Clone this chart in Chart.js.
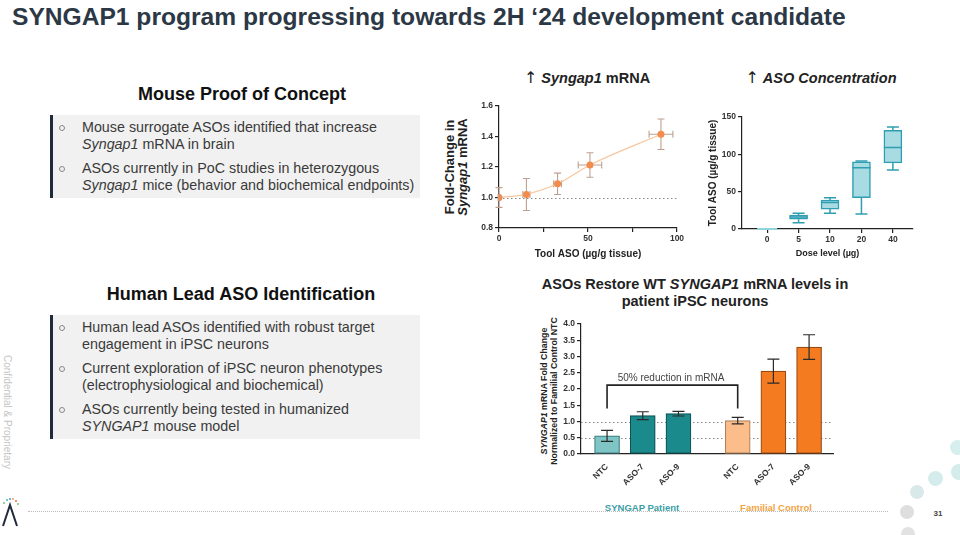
<!DOCTYPE html>
<html>
<head>
<meta charset="utf-8">
<title>SYNGAP1 program</title>
<script src="https://cdn.jsdelivr.net/npm/chart.js@4.4.1/dist/chart.umd.min.js"></script>
<style>
  html, body { margin: 0; padding: 0; }
  body { width: 960px; height: 535px; position: relative; overflow: hidden; background: #fff;
         font-family: 'Liberation Sans', Arial, sans-serif; }
  .abs { position: absolute; white-space: nowrap; }
  .c { transform: translate(-50%, -50%); text-align: center; }
  .rot { transform: translate(-50%, -50%) rotate(-90deg); text-align: center; }
  #title { left: 12px; top: 3px; font-size: 24.6px; font-weight: bold; color: #2c3845; }
  .head { font-size: 18px; font-weight: bold; color: #111; }
  .box { position: absolute; left: 50px; width: 370px; background: #f1f1f1; border-left: 3px solid #1e2b3a;
         box-sizing: border-box; padding-top: 3.5px; }
  .item { position: relative; padding-left: 29px; line-height: 17px; font-size: 14.3px; color: #3a3a3a;
          margin-bottom: 7px; white-space: nowrap; }
  .item::before { content: ''; position: absolute; left: 6px; top: 6px; width: 4px; height: 4px;
                  border: 1px solid #888; border-radius: 50%; }
  .ctitle { font-size: 14.5px; font-weight: bold; color: #222; line-height: 17px; }
  .arrow { font-family: 'DejaVu Sans', sans-serif; font-weight: normal; font-size: 16px; }
  canvas { position: absolute; }
  .dot { position: absolute; border-radius: 50%; }
</style>
</head>
<body>

<div id="title" class="abs">SYNGAP1 program progressing towards 2H ‘24 development candidate</div>

<div class="abs c head" style="left:242px; top:94px;">Mouse Proof of Concept</div>
<div class="box" style="top:115px; height:83px;">
  <div class="item">Mouse surrogate ASOs identified that increase<br><i>Syngap1</i> mRNA in brain</div>
  <div class="item">ASOs currently in PoC studies in heterozygous<br><i>Syngap1</i> mice (behavior and biochemical endpoints)</div>
</div>

<div class="abs c head" style="left:241px; top:294px;">Human Lead ASO Identification</div>
<div class="box" style="top:315px; height:124px;">
  <div class="item">Human lead ASOs identified with robust target<br>engagement in iPSC neurons</div>
  <div class="item">Current exploration of iPSC neuron phenotypes<br>(electrophysiological and biochemical)</div>
  <div class="item">ASOs currently being tested in humanized<br><i>SYNGAP1</i> mouse model</div>
</div>

<!-- chart titles -->
<div class="abs c ctitle" style="left:587px; top:78px;"><span class="arrow">↑</span> <i>Syngap1</i> mRNA</div>
<div class="abs c ctitle" style="left:821px; top:78px;"><span class="arrow">↑</span> <i>ASO Concentration</i></div>
<div class="abs c ctitle" style="left:695px; top:293px;">ASOs Restore WT <i>SYNGAP1</i> mRNA levels in<br>patient iPSC neurons</div>

<!-- y axis titles with italics -->
<div class="abs rot" style="left:456px; top:167px; font-size:13px; font-weight:bold; line-height:13px; color:#222;">Fold-Change in<br><i>Syngap1</i> mRNA</div>
<div class="abs rot" style="left:549px; top:391px; font-size:8.8px; font-weight:bold; line-height:10px; color:#222;"><i>SYNGAP1</i> mRNA Fold Change<br>Normalized to Familial Control NTC</div>

<canvas id="mrnaChart" width="250" height="167" style="left:440px; top:95px;"></canvas>
<canvas id="asoChart" width="250" height="165" style="left:700px; top:95px;"></canvas>
<canvas id="ipscChart" width="330" height="190" style="left:520px; top:310px;"></canvas>

<div class="abs c" style="left:671px; top:377px; font-size:10px; color:#444;">50% reduction in mRNA</div>
<div class="abs c" style="left:642px; top:507px; font-size:9.5px; font-weight:bold; color:#3a9ea6;">SYNGAP Patient</div>
<div class="abs c" style="left:776px; top:507px; font-size:9.5px; font-weight:bold; color:#f2a444;">Familial Control</div>

<!-- footer -->
<div class="abs" style="left:28px; top:511px; width:860px; border-top:1px dotted #bbb;"></div>
<div class="abs c" style="left:938px; top:513px; font-size:8px; font-weight:bold; color:#444;">31</div>
<div class="abs c" style="left:7px; top:412px; font-size:10px; color:#c4c4c4; writing-mode:vertical-rl; transform:translate(-50%,-50%);">Confidential &amp; Proprietary</div>
<svg class="abs" style="left:0; top:494px;" width="24" height="34">
  <polyline points="3,32 10,11 17,32" fill="none" stroke="#1f2a3a" stroke-width="2"/>
  <circle cx="4" cy="9" r="1" fill="#7cc576"/><circle cx="7" cy="6" r="1" fill="#4cb5a5"/>
  <circle cx="10" cy="5" r="1" fill="#3a9ed6"/><circle cx="13" cy="5" r="1" fill="#f2a444"/>
  <circle cx="16" cy="7" r="1" fill="#e86a4a"/><circle cx="18" cy="10" r="1" fill="#7cc576"/>
</svg>
<div class="dot" style="left:950px; top:440px; width:15px; height:15px; background:#d6eeee;"></div>
<div class="dot" style="left:951px; top:464px; width:16px; height:16px; background:#d4ecec;"></div>
<div class="dot" style="left:928px; top:471px; width:15px; height:15px; background:#d4ecec;"></div>
<div class="dot" style="left:910px; top:485px; width:14px; height:14px; background:#d9e9e9;"></div>
<div class="dot" style="left:900px; top:505px; width:14px; height:14px; background:#dedede;"></div>
<div class="dot" style="left:901px; top:527px; width:14px; height:14px; background:#e2e2e2;"></div>

<script>
Chart.defaults.font.family = "'Liberation Sans', Arial, sans-serif";
Chart.defaults.color = '#333';
Chart.defaults.animation = false;

// Syngap1 mRNA vs tool ASO in tissue (mean ± error on both axes)
const mrnaDose = [0, 15.4, 32.9, 51.1, 91];
const mrnaFold = [1.0, 1.02, 1.09, 1.213, 1.415];
const mrnaDoseErr = [0.5, 2, 2.2, 6.6, 6.7];
const mrnaFoldErr = [0.065, 0.105, 0.07, 0.08, 0.1];

// ASO concentration box plot by dose level
const doseLevels = ['0', '5', '10', '20', '40'];
const asoMin = [0, 8.5, 21, 20, 79];
const asoQ1 = [0, 13, 26.7, 42, 88.6];
const asoMedian = [0, 16, 35.6, 82, 109];
const asoQ3 = [0, 18.7, 38.7, 90, 132];
const asoMax = [0, 21, 41.8, 91, 136.6];

// iPSC neurons bar chart
const barLabels = ['NTC', 'ASO-7', 'ASO-9', 'NTC', 'ASO-7', 'ASO-9'];
const barGroup = [0, 0, 0, 1, 1, 1];   // 0 = SYNGAP patient, 1 = familial control
const barValues = [0.56, 1.18, 1.24, 1.03, 2.55, 3.29];
const barErr = [0.17, 0.12, 0.07, 0.1, 0.37, 0.38];

const GROUP_GAP = 0.66;
const barX = barLabels.map((_, i) => i + barGroup[i] * GROUP_GAP);

const axisColor = '#222';
const tickFont = { size: 8.5, weight: 'bold' };

// dotted horizontal reference lines
const refLinePlugin = {
    id: 'refLines',
    beforeDatasetsDraw(chart, args, opts) {
        if (!opts.values) return;
        const { ctx, chartArea, scales } = chart;
        ctx.save();
        ctx.strokeStyle = opts.color || '#888';
        ctx.lineWidth = 1;
        ctx.setLineDash(opts.dash || [2, 2]);
        opts.values.forEach(v => {
            const y = Math.round(scales.y.getPixelForValue(v)) + 0.5;
            ctx.beginPath();
            ctx.moveTo(chartArea.left, y);
            ctx.lineTo(chartArea.right, y);
            ctx.stroke();
        });
        ctx.restore();
    }
};

function drawErrors(chart, behind) {
    const ctx = chart.ctx;
    const ys = chart.scales.y, xs = chart.scales.x;
    chart.data.datasets.forEach((ds, di) => {
        if (!ds.yErr || !!ds.errBehind !== behind) return;
        const meta = chart.getDatasetMeta(di);
        const cap = ds.capSize || 5;
        ctx.save();
        ctx.strokeStyle = ds.errColor || '#333';
        ctx.lineWidth = ds.errWidth || 1.2;
        meta.data.forEach((el, i) => {
            const raw = ds.data[i];
            const x = xs.getPixelForValue(raw.x);
            const y = ys.getPixelForValue(raw.y);
            const top = ys.getPixelForValue(raw.y + ds.yErr[i]);
            const bot = ys.getPixelForValue(raw.y - ds.yErr[i]);
            ctx.beginPath();
            ctx.moveTo(x, top); ctx.lineTo(x, bot);
            ctx.moveTo(x - cap, top); ctx.lineTo(x + cap, top);
            ctx.moveTo(x - cap, bot); ctx.lineTo(x + cap, bot);
            if (ds.xErr) {
                const l = xs.getPixelForValue(raw.x - ds.xErr[i]);
                const r = xs.getPixelForValue(raw.x + ds.xErr[i]);
                ctx.moveTo(l, y); ctx.lineTo(r, y);
                ctx.moveTo(l, y - cap); ctx.lineTo(l, y + cap);
                ctx.moveTo(r, y - cap); ctx.lineTo(r, y + cap);
            }
            ctx.stroke();
        });
        ctx.restore();
    });
}

const errorBarPlugin = {
    id: 'errorBars',
    beforeDatasetsDraw(chart) { drawErrors(chart, true); },
    afterDatasetsDraw(chart) { drawErrors(chart, false); }
};

// whiskers and medians on top of the floating bars
const boxPlotPlugin = {
    id: 'boxWhiskers',
    afterDatasetsDraw(chart) {
        const ctx = chart.ctx, ys = chart.scales.y;
        const meta = chart.getDatasetMeta(0);
        ctx.save();
        ctx.lineWidth = 1.5;
        meta.data.forEach((el, i) => {
            const x = el.x, half = el.width / 2, cap = 6;
            const pMin = ys.getPixelForValue(asoMin[i]);
            const pMax = ys.getPixelForValue(asoMax[i]);
            const pQ1 = ys.getPixelForValue(asoQ1[i]);
            const pQ3 = ys.getPixelForValue(asoQ3[i]);
            const pMed = ys.getPixelForValue(asoMedian[i]);
            if (asoMax[i] === asoMin[i]) {
                ctx.strokeStyle = '#8fd3dc';
                ctx.lineWidth = 2;
                ctx.beginPath();
                ctx.moveTo(x - half - 1, pMed); ctx.lineTo(x + half + 1, pMed);
                ctx.stroke();
                ctx.lineWidth = 1.5;
                return;
            }
            ctx.strokeStyle = '#2f9eb2';
            ctx.beginPath();
            ctx.moveTo(x, pQ3); ctx.lineTo(x, pMax);
            ctx.moveTo(x - cap, pMax); ctx.lineTo(x + cap, pMax);
            ctx.moveTo(x, pQ1); ctx.lineTo(x, pMin);
            ctx.moveTo(x - cap, pMin); ctx.lineTo(x + cap, pMin);
            ctx.moveTo(x - half, pMed); ctx.lineTo(x + half, pMed);
            ctx.stroke();
        });
        ctx.restore();
    }
};

// bracket between two bars
const bracketPlugin = {
    id: 'bracket',
    afterDatasetsDraw(chart, args, opts) {
        if (opts.from == null) return;
        const { ctx, scales: { x, y } } = chart;
        const x1 = x.getPixelForValue(barX[opts.from]);
        const x2 = x.getPixelForValue(barX[opts.to]);
        const yl = y.getPixelForValue(opts.low);
        const yh = y.getPixelForValue(opts.high);
        ctx.save();
        ctx.strokeStyle = '#222';
        ctx.lineWidth = 1.6;
        ctx.beginPath();
        ctx.moveTo(x1, yl); ctx.lineTo(x1, yh); ctx.lineTo(x2, yh); ctx.lineTo(x2, yl);
        ctx.stroke();
        ctx.restore();
    }
};

const tickGrid = { drawOnChartArea: false, color: axisColor, tickLength: 4, lineWidth: 1.2 };
const axisBorder = { color: axisColor, width: 1.2 };

// ---- Syngap1 mRNA ----
new Chart(document.getElementById('mrnaChart'), {
    type: 'scatter',
    data: {
        datasets: [{
            data: mrnaDose.map((d, i) => ({ x: d, y: mrnaFold[i] })),
            xErr: mrnaDoseErr,
            yErr: mrnaFoldErr,
            errColor: '#bfa090',
            errWidth: 1.1,
            errBehind: true,
            capSize: 3.5,
            showLine: true,
            cubicInterpolationMode: 'monotone',
            borderColor: '#f7c7a0',
            borderWidth: 1.2,
            pointRadius: 3.5,
            pointBackgroundColor: '#f28b4c',
            pointBorderWidth: 0
        }]
    },
    options: {
        responsive: false,
        layout: { padding: { top: 11, right: 13 } },
        plugins: {
            legend: { display: false },
            tooltip: { enabled: false },
            refLines: { values: [1.0], color: '#8a8a8a', dash: [1.5, 2.5] }
        },
        scales: {
            x: {
                type: 'linear', min: 0, max: 100, offset: false,
                afterFit: s => { s.height = 34; },
                afterBuildTicks: s => { s.ticks = [0, 25, 50, 75, 100].map(v => ({ value: v })); },
                ticks: { callback: v => v % 50 === 0 ? v : '', font: tickFont, padding: 2, maxRotation: 0, autoSkip: false },
                grid: tickGrid,
                border: axisBorder,
                title: { display: true, text: 'Tool ASO (µg/g tissue)', font: { size: 10, weight: 'bold' }, color: axisColor, padding: { top: 0, bottom: 2 } }
            },
            y: {
                min: 0.8, max: 1.6,
                afterFit: s => { s.width = 59; },
                ticks: { stepSize: 0.2, callback: v => v.toFixed(1), font: tickFont, padding: 2 },
                grid: tickGrid,
                border: axisBorder
            }
        }
    },
    plugins: [refLinePlugin, errorBarPlugin]
});

// ---- ASO concentration ----
new Chart(document.getElementById('asoChart'), {
    type: 'bar',
    data: {
        datasets: [{
            data: doseLevels.map((d, i) => ({ x: i, y: [asoQ1[i], asoQ3[i]] })),
            backgroundColor: '#a9dbe3',
            borderColor: '#2f9eb2',
            borderWidth: 1.5,
            borderSkipped: false,
            barThickness: 18
        }]
    },
    options: {
        responsive: false,
        layout: { padding: { top: 22, right: 37 } },
        plugins: { legend: { display: false }, tooltip: { enabled: false } },
        scales: {
            x: {
                type: 'linear', min: -0.8, max: 4.64, offset: false,
                afterFit: s => { s.height = 31; },
                afterBuildTicks: s => { s.ticks = doseLevels.map((d, i) => ({ value: i })); },
                ticks: { callback: (v, i) => doseLevels[i], font: tickFont, padding: 2, maxRotation: 0, autoSkip: false },
                grid: { drawOnChartArea: false, color: axisColor, tickLength: 4, lineWidth: 1.2, offset: false },
                border: axisBorder,
                title: { display: true, text: 'Dose level (µg)', font: { size: 9, weight: 'bold' }, color: axisColor, padding: { top: 0, bottom: 1.5 } }
            },
            y: {
                min: 0, max: 150,
                afterFit: s => { s.width = 42; },
                ticks: { stepSize: 50, font: tickFont, padding: 2 },
                grid: tickGrid,
                border: axisBorder,
                title: { display: true, text: 'Tool ASO (µg/g tissue)', font: { size: 10, weight: 'bold' }, color: axisColor, padding: { top: 7, bottom: 0 } }
            }
        }
    },
    plugins: [boxPlotPlugin]
});

// ---- iPSC neurons ----
new Chart(document.getElementById('ipscChart'), {
    type: 'bar',
    data: {
        datasets: [{
            data: barValues.map((v, i) => ({ x: barX[i], y: v })),
            yErr: barErr,
            errColor: '#2a2a2a',
            capSize: 6,
            backgroundColor: ['#7fc5c6', '#1a8a8c', '#1a8a8c', '#fbbd8a', '#f47b20', '#f47b20'],
            borderColor: ['#3f7f80', '#0f5455', '#0f5455', '#b0815a', '#9c4a10', '#9c4a10'],
            borderWidth: 1.2,
            borderSkipped: false,
            barThickness: 25
        }]
    },
    options: {
        responsive: false,
        layout: { padding: { top: 14, right: 17 } },
        plugins: {
            legend: { display: false },
            tooltip: { enabled: false },
            refLines: { values: [0.5, 1.0], color: '#8a8a8a', dash: [1.5, 2.5] },
            bracket: { from: 0, to: 3, low: 1.4, high: 2.12 }
        },
        scales: {
            x: {
                type: 'linear', min: -0.73, max: 6.33, offset: false,
                afterFit: s => { s.height = 46; },
                afterBuildTicks: s => { s.ticks = barX.map(v => ({ value: v })); },
                ticks: { callback: (v, i) => barLabels[i], font: { size: 8.5, weight: 'bold' }, padding: 8, minRotation: 45, maxRotation: 45, autoSkip: false },
                grid: { display: false, drawTicks: false, offset: false },
                border: axisBorder
            },
            y: {
                min: 0, max: 4,
                afterFit: s => { s.width = 61; },
                ticks: { stepSize: 0.5, callback: v => v.toFixed(1), font: tickFont, padding: 2 },
                grid: tickGrid,
                border: axisBorder
            }
        }
    },
    plugins: [refLinePlugin, errorBarPlugin, bracketPlugin]
});
</script>
</body>
</html>
